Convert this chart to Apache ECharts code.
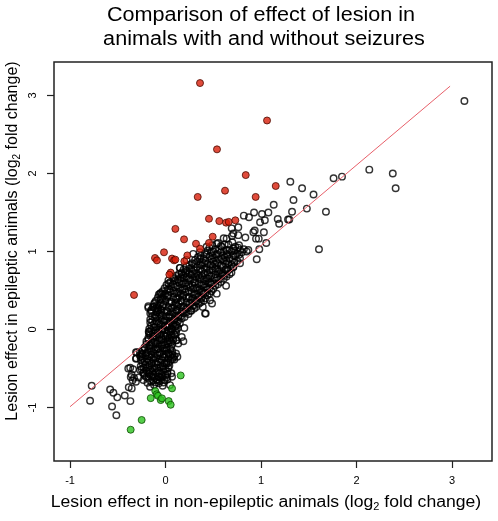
<!DOCTYPE html>
<html>
<head>
<meta charset="utf-8">
<script src="https://cdn.jsdelivr.net/npm/echarts@6/dist/echarts.min.js"></script>
<style>html,body{margin:0;padding:0;background:#fff}#c{width:498px;height:521px}</style>
</head>
<body>
<div id="c"></div>
<script>
const titleLines = ['Comparison of effect of lesion in', 'animals with and without seizures'];
const xLabel = 'Lesion effect in non-epileptic animals (log{sub|2} fold change)';
const yLabel = 'Lesion effect in epileptic animals (log{sub|2} fold change)';
const xTicks = [-1, 0, 1, 2, 3];
const yTicks = [-1, 0, 1, 2, 3];

// dense band of genes (open circles)
const bandPoints = [
 [0.55,1.11],[0.62,1.09],[0.70,1.12],[0.77,1.08],
 [0.46,1.05],[0.52,1.03],[0.59,1.06],[0.64,1.02],[0.71,1.04],[0.76,1.05],[0.82,1.03],
 [0.41,0.97],[0.48,0.99],[0.53,0.96],[0.58,0.99],[0.64,0.97],[0.69,1.00],[0.75,0.97],[0.80,0.99],
 [0.34,0.93],[0.40,0.91],[0.46,0.94],[0.51,0.92],[0.56,0.90],[0.62,0.93],[0.67,0.91],[0.73,0.94],[0.78,0.91],
 [0.28,0.85],[0.33,0.87],[0.39,0.86],[0.44,0.84],[0.50,0.87],[0.55,0.85],[0.61,0.88],[0.66,0.85],[0.72,0.86],
 [0.22,0.81],[0.27,0.79],[0.33,0.80],[0.38,0.82],[0.43,0.79],[0.49,0.81],[0.54,0.78],[0.60,0.81],[0.65,0.79],[0.71,0.80],
 [0.17,0.73],[0.22,0.75],[0.28,0.74],[0.33,0.72],[0.38,0.75],[0.44,0.73],[0.49,0.76],[0.55,0.74],[0.60,0.72],[0.65,0.75],[0.69,0.73],
 [0.11,0.69],[0.16,0.67],[0.22,0.68],[0.27,0.70],[0.32,0.67],[0.38,0.69],[0.43,0.66],[0.48,0.69],[0.54,0.67],[0.59,0.70],[0.64,0.68],
 [0.05,0.61],[0.10,0.63],[0.16,0.62],[0.21,0.60],[0.26,0.63],[0.31,0.61],[0.37,0.64],[0.42,0.62],[0.47,0.60],[0.53,0.63],[0.58,0.61],
 [0.01,0.57],[0.06,0.55],[0.12,0.56],[0.17,0.58],[0.22,0.55],[0.28,0.57],[0.33,0.54],[0.38,0.57],[0.43,0.55],[0.48,0.58],[0.52,0.56],
 [-0.03,0.49],[0.02,0.51],[0.08,0.50],[0.13,0.48],[0.18,0.51],[0.24,0.49],[0.29,0.52],[0.34,0.50],[0.39,0.48],[0.44,0.51],[0.48,0.49],
 [-0.07,0.45],[-0.02,0.43],[0.03,0.44],[0.09,0.46],[0.14,0.43],[0.19,0.45],[0.25,0.42],[0.30,0.45],[0.35,0.43],[0.40,0.46],[0.44,0.44],
 [-0.10,0.37],[-0.05,0.39],[0.00,0.38],[0.06,0.36],[0.11,0.39],[0.16,0.37],[0.22,0.40],[0.27,0.38],[0.32,0.36],[0.37,0.39],[0.40,0.37],
 [-0.12,0.33],[-0.07,0.31],[-0.02,0.32],[0.04,0.34],[0.09,0.31],[0.14,0.33],[0.19,0.30],[0.25,0.33],[0.30,0.31],[0.35,0.33],
 [-0.15,0.25],[-0.10,0.27],[-0.05,0.26],[0.01,0.24],[0.06,0.27],[0.11,0.25],[0.16,0.28],[0.21,0.26],[0.26,0.24],[0.30,0.27],
 [-0.16,0.21],[-0.11,0.19],[-0.06,0.20],[-0.01,0.22],[0.04,0.19],[0.09,0.21],[0.14,0.18],[0.19,0.21],[0.24,0.20],
 [-0.16,0.13],[-0.11,0.15],[-0.06,0.14],[-0.01,0.12],[0.04,0.15],[0.09,0.13],[0.13,0.16],[0.17,0.14],
 [-0.16,0.09],[-0.12,0.07],[-0.07,0.08],[-0.02,0.10],[0.03,0.07],[0.07,0.09],[0.11,0.06],[0.15,0.08],
 [-0.17,0.01],[-0.12,0.03],[-0.07,0.02],[-0.03,0.00],[0.02,0.03],[0.06,0.01],[0.10,0.04],[0.13,0.02],
 [-0.17,-0.03],[-0.13,-0.05],[-0.08,-0.04],[-0.04,-0.02],[0.01,-0.05],[0.05,-0.03],[0.09,-0.06],[0.11,-0.04],
 [-0.18,-0.11],[-0.13,-0.09],[-0.09,-0.10],[-0.04,-0.12],[0.00,-0.09],[0.04,-0.11],[0.08,-0.10],
 [-0.20,-0.15],[-0.15,-0.17],[-0.11,-0.16],[-0.06,-0.14],[-0.02,-0.17],[0.02,-0.15],[0.06,-0.16],
 [-0.22,-0.23],[-0.17,-0.21],[-0.13,-0.22],[-0.08,-0.24],[-0.04,-0.21],[0.01,-0.23],[0.06,-0.22],
 [-0.24,-0.27],[-0.19,-0.29],[-0.15,-0.28],[-0.10,-0.26],[-0.06,-0.29],[-0.01,-0.27],[0.03,-0.30],[0.07,-0.28],
 [-0.26,-0.35],[-0.21,-0.33],[-0.17,-0.34],[-0.12,-0.36],[-0.08,-0.33],[-0.03,-0.35],[0.01,-0.32],[0.05,-0.34],[0.08,-0.36],
 [-0.26,-0.39],[-0.22,-0.41],[-0.17,-0.40],[-0.13,-0.38],[-0.08,-0.41],[-0.04,-0.39],[0.01,-0.42],[0.05,-0.40],
 [-0.26,-0.47],[-0.21,-0.45],[-0.17,-0.46],[-0.12,-0.48],[-0.08,-0.45],[-0.03,-0.47],[0.01,-0.44],[0.04,-0.46],
 [-0.25,-0.51],[-0.20,-0.53],[-0.16,-0.52],[-0.11,-0.50],[-0.07,-0.53],[-0.02,-0.51],[0.02,-0.54],
 [-0.22,-0.59],[-0.17,-0.57],[-0.13,-0.58],[-0.08,-0.60],[-0.04,-0.57],[0.00,-0.59],
 [-0.18,-0.63],[-0.13,-0.65],[-0.09,-0.64],[-0.05,-0.62],[-0.01,-0.65],
 [-0.12,-0.71],[-0.07,-0.69],[-0.03,-0.72]
];

// more genes inside the dense band (open circles)
const bandPoints2 = [
 [0.49,1.08],[0.58,1.07],[0.66,1.09],[0.73,1.06],
 [0.44,1.01],[0.50,1.00],[0.56,1.02],[0.61,1.00],[0.67,1.02],[0.72,1.01],[0.78,1.02],
 [0.37,0.95],[0.43,0.96],[0.49,0.95],[0.54,0.97],[0.60,0.95],[0.65,0.96],[0.71,0.95],[0.77,0.96],
 [0.31,0.89],[0.36,0.90],[0.42,0.88],[0.48,0.90],[0.53,0.88],[0.59,0.90],[0.64,0.88],[0.70,0.89],[0.75,0.88],
 [0.25,0.83],[0.30,0.84],[0.36,0.83],[0.41,0.85],[0.47,0.83],[0.52,0.84],[0.58,0.82],[0.63,0.84],[0.69,0.83],
 [0.19,0.77],[0.25,0.78],[0.30,0.76],[0.36,0.77],[0.41,0.78],[0.46,0.76],[0.52,0.78],[0.57,0.76],[0.63,0.77],[0.68,0.78],
 [0.14,0.71],[0.19,0.70],[0.25,0.72],[0.30,0.71],[0.35,0.70],[0.41,0.72],[0.46,0.70],[0.52,0.71],[0.57,0.72],[0.62,0.70],[0.67,0.71],
 [0.08,0.65],[0.13,0.64],[0.19,0.66],[0.24,0.65],[0.29,0.64],[0.35,0.66],[0.40,0.64],[0.45,0.65],[0.51,0.66],[0.56,0.64],[0.61,0.65],
 [0.03,0.59],[0.08,0.58],[0.14,0.60],[0.19,0.59],[0.24,0.58],[0.30,0.60],[0.35,0.59],[0.40,0.58],[0.45,0.60],[0.50,0.59],[0.55,0.58],
 [-0.01,0.53],[0.04,0.52],[0.10,0.54],[0.15,0.53],[0.20,0.52],[0.26,0.54],[0.31,0.53],[0.36,0.52],[0.41,0.54],[0.46,0.53],[0.50,0.52],
 [-0.05,0.47],[0.00,0.46],[0.05,0.48],[0.11,0.47],[0.16,0.46],[0.21,0.48],[0.27,0.47],[0.32,0.46],[0.37,0.48],[0.42,0.47],[0.46,0.46],
 [-0.08,0.41],[-0.03,0.40],[0.02,0.42],[0.08,0.41],[0.13,0.40],[0.18,0.42],[0.24,0.41],[0.29,0.40],[0.34,0.42],[0.38,0.41],[0.42,0.40],
 [-0.11,0.35],[-0.05,0.34],[0.00,0.36],[0.06,0.35],[0.11,0.34],[0.17,0.36],[0.22,0.35],[0.27,0.34],[0.32,0.36],[0.37,0.35],
 [-0.13,0.29],[-0.08,0.28],[-0.03,0.30],[0.03,0.29],[0.08,0.28],[0.13,0.30],[0.18,0.29],[0.23,0.28],[0.28,0.30],[0.32,0.29],
 [-0.15,0.23],[-0.09,0.22],[-0.04,0.24],[0.02,0.23],[0.07,0.22],[0.12,0.24],[0.17,0.23],[0.22,0.22],[0.27,0.24],
 [-0.14,0.17],[-0.09,0.16],[-0.04,0.18],[0.01,0.17],[0.06,0.16],[0.11,0.18],[0.16,0.17],[0.20,0.16],
 [-0.14,0.11],[-0.09,0.10],[-0.04,0.12],[0.01,0.11],[0.05,0.10],[0.09,0.12],[0.13,0.11],
 [-0.15,0.05],[-0.10,0.04],[-0.05,0.06],[0.00,0.05],[0.04,0.04],[0.08,0.06],[0.12,0.05],
 [-0.15,-0.01],[-0.10,-0.02],[-0.06,0.00],[-0.01,-0.01],[0.03,-0.02],[0.07,0.00],[0.11,-0.01],
 [-0.16,-0.07],[-0.11,-0.08],[-0.06,-0.06],[-0.02,-0.07],[0.02,-0.08],[0.06,-0.06],[0.10,-0.07],
 [-0.18,-0.13],[-0.13,-0.12],[-0.08,-0.14],[-0.04,-0.13],[0.00,-0.12],[0.04,-0.14],[0.08,-0.13],
 [-0.20,-0.19],[-0.15,-0.20],[-0.10,-0.18],[-0.06,-0.19],[-0.01,-0.20],[0.03,-0.18],[0.07,-0.19],
 [-0.22,-0.25],[-0.17,-0.24],[-0.12,-0.26],[-0.08,-0.25],[-0.03,-0.24],[0.01,-0.26],[0.05,-0.25],
 [-0.25,-0.31],[-0.20,-0.30],[-0.15,-0.32],[-0.11,-0.31],[-0.06,-0.30],[-0.02,-0.32],[0.03,-0.31],[0.07,-0.32],
 [-0.24,-0.37],[-0.19,-0.38],[-0.15,-0.36],[-0.10,-0.37],[-0.06,-0.38],[-0.01,-0.36],[0.03,-0.37],[0.07,-0.38],
 [-0.24,-0.43],[-0.19,-0.42],[-0.15,-0.44],[-0.10,-0.43],[-0.05,-0.42],[-0.01,-0.44],[0.03,-0.43],
 [-0.23,-0.49],[-0.18,-0.48],[-0.14,-0.50],[-0.09,-0.49],[-0.05,-0.48],[0.00,-0.50],[0.03,-0.49],
 [-0.23,-0.55],[-0.18,-0.56],[-0.14,-0.54],[-0.10,-0.55],[-0.06,-0.56],[-0.02,-0.54],[0.02,-0.57],
 [-0.20,-0.61],[-0.15,-0.60],[-0.11,-0.62],[-0.07,-0.61],[-0.03,-0.60],[0.01,-0.62],
 [-0.15,-0.67],[-0.10,-0.68],[-0.06,-0.66],[-0.02,-0.68]
];

// scattered genes (open circles)
const sparsePoints = [
 [3.13,2.93],[2.134,2.05],[2.38,2.0],[2.41,1.81],[1.848,1.96],[1.76,1.94],[1.43,1.81],[1.55,1.73],[1.48,1.55],[1.68,1.51],[1.607,1.03],
 [1.307,1.895],[1.34,1.66],[1.133,1.60],[1.325,1.51],[1.077,1.50],[1.01,1.48],[0.927,1.50],[0.82,1.46],[0.874,1.44],[1.175,1.416],[1.19,1.357],
 [1.04,1.40],[1.283,1.41],[1.296,1.41],[0.99,1.374],[0.693,1.297],[0.92,1.246],[0.934,1.27],[1.03,1.246],[0.762,1.21],[0.696,1.2],[0.609,1.17],
 [0.836,1.18],[0.948,1.165],[0.976,1.165],[1.055,1.11],[0.982,1.03],[0.867,1.02],[0.955,0.90],
 [0.421,0.205],[0.634,0.56],[0.487,0.333],[0.187,-0.15],[0.197,0.02],[0.117,-0.137],[0.092,-0.34],[0.061,-0.56],
 [-0.773,-0.72],[-0.79,-0.914],[-0.58,-0.77],[-0.546,-0.81],[-0.505,-0.87],[-0.56,-0.986],[-0.515,-1.10],[-0.427,-0.845],[-0.368,-0.918],
 [-0.385,-0.74],[-0.354,-0.755],[-0.39,-0.50],[-0.364,-0.61],[-0.309,-0.29],[-0.27,-0.33],[-0.305,-0.37],[-0.176,-0.03],[-0.18,0.28],
 [-0.092,0.31],[-0.086,0.247],[-0.058,0.46],[-0.04,0.45],[0.149,0.79],[0.17,0.71],[0.21,0.72],
 [-0.37,-0.49],[-0.34,-0.51],[-0.355,-0.58],[-0.33,-0.62],[-0.345,-0.65],[-0.31,-0.67],
 [-0.30,-0.295],[-0.267,-0.287],[-0.24,-0.316],[-0.31,-0.376],
 [-0.267,-0.52],[-0.232,-0.563],[-0.28,-0.615],[-0.232,-0.649],[-0.19,-0.684],[-0.162,-0.735],[-0.128,-0.607],[-0.092,-0.649],
 [-0.18,0.298],[-0.128,0.29],[-0.075,0.247],[-0.173,-0.05],
 [0.11,-0.137],[0.134,-0.18],[0.068,-0.607],[0.019,-0.64],[0.047,-0.713],[0.11,-0.307],[0.124,-0.35],[0.092,-0.384],[0.414,0.205],
 [0.85,1.0],[0.71,0.80],[0.78,0.85],[0.536,0.46],[0.466,0.375],[0.39,0.29],[0.17,-0.095],
 [0.03,0.63],[0.08,0.67],[0.152,0.79],[0.22,0.89],[0.29,0.97],[0.36,0.99],[0.43,1.06],[0.536,1.10],[0.64,1.165],[0.71,1.23],[0.762,1.31]
];

// significantly up in epileptic animals (red)
const redPoints = [
 [0.361,3.16],[1.063,2.68],[0.539,2.31],[0.84,1.98],[1.154,1.84],[0.623,1.78],[0.337,1.70],[0.944,1.70],
 [0.455,1.42],[0.563,1.39],[0.634,1.37],[0.662,1.38],[0.731,1.40],[0.103,1.29],[0.494,1.19],[0.194,1.156],
 [0.319,1.10],[0.455,1.11],[0.361,1.037],[-0.016,0.99],[-0.11,0.917],[-0.09,0.887],[0.068,0.91],[0.089,0.887],
 [0.103,0.896],[0.197,0.875],[0.228,0.95],[0.054,0.73],[0.04,0.704],[-0.33,0.443]
];

// significantly down in epileptic animals (green)
const greenPoints = [
 [0.159,-0.589],[0.068,-0.755],[-0.107,-0.79],[-0.092,-0.83],[-0.079,-0.85],[-0.155,-0.88],
 [-0.05,-0.905],[-0.037,-0.883],[0.033,-0.918],[0.054,-0.965],[-0.25,-1.16],[-0.365,-1.285]
];

// reference line
const refLine = [[-1, -0.99], [2.98, 3.12]];

const chart = echarts.init(document.getElementById('c'), null, {renderer: 'canvas'});
const FONT = 'Liberation Sans, Arial, sans-serif';
const subStyle = {sub: {fontSize: 10, fontFamily: FONT, padding: [8, 0, 0, 0]}};
chart.setOption({
  animation: false,
  backgroundColor: '#fff',
  grid: {left: 54, top: 62, right: 6, bottom: 60, show: true, borderColor: '#222', borderWidth: 1.5, backgroundColor: 'transparent'},
  xAxis: {
    type: 'value', min: -1.168, max: 3.419,
    axisLine: {show: false, onZero: false},
    splitLine: {show: false},
    axisTick: {show: true, length: 7, inside: false, customValues: xTicks, lineStyle: {color: '#222', width: 1.2}},
    axisLabel: {customValues: xTicks, fontFamily: FONT, fontSize: 11, color: '#000', margin: 14}
  },
  yAxis: {
    type: 'value', min: -1.686, max: 3.43,
    axisLine: {show: false, onZero: false},
    splitLine: {show: false},
    axisTick: {show: true, length: 7, inside: false, customValues: yTicks, lineStyle: {color: '#222', width: 1.2}},
    axisLabel: {customValues: yTicks, fontFamily: FONT, fontSize: 11, color: '#000', margin: 16, rotate: 90}
  },
  graphic: [
    {type: 'text', x: 261, y: 15, scaleX: 1.08, style: {text: titleLines[0], fill: '#000', font: '20px ' + FONT, textAlign: 'center', textVerticalAlign: 'middle'}},
    {type: 'text', x: 264, y: 39.5, scaleX: 1.08, style: {text: titleLines[1], fill: '#000', font: '20px ' + FONT, textAlign: 'center', textVerticalAlign: 'middle'}},
    {type: 'text', x: 266, y: 503, scaleX: 1.1, style: {text: xLabel, fill: '#000', font: '16px ' + FONT, textAlign: 'center', textVerticalAlign: 'middle', rich: subStyle}},
    {type: 'text', x: 13, y: 241, rotation: Math.PI / 2, style: {text: yLabel, fill: '#000', font: '16px ' + FONT, textAlign: 'center', textVerticalAlign: 'middle', rich: subStyle}}
  ],
  series: [
    {type: 'scatter', data: bandPoints.concat(bandPoints2, sparsePoints), symbol: 'circle', symbolSize: 6.5,
      itemStyle: {color: 'rgba(0,0,0,0)', borderColor: '#000', borderWidth: 1.45}, z: 2},
    {type: 'scatter', data: redPoints, symbol: 'circle', symbolSize: 7,
      itemStyle: {color: '#d81e0a', borderColor: '#4a0a00', borderWidth: 1}, z: 3},
    {type: 'scatter', data: greenPoints, symbol: 'circle', symbolSize: 7,
      itemStyle: {color: '#2cc21e', borderColor: '#0a4a00', borderWidth: 1}, z: 3},
    {type: 'line', data: refLine, showSymbol: false, symbol: 'none', lineStyle: {color: '#e8606a', width: 1}, z: 4, silent: true}
  ]
});
</script>
</body>
</html>
